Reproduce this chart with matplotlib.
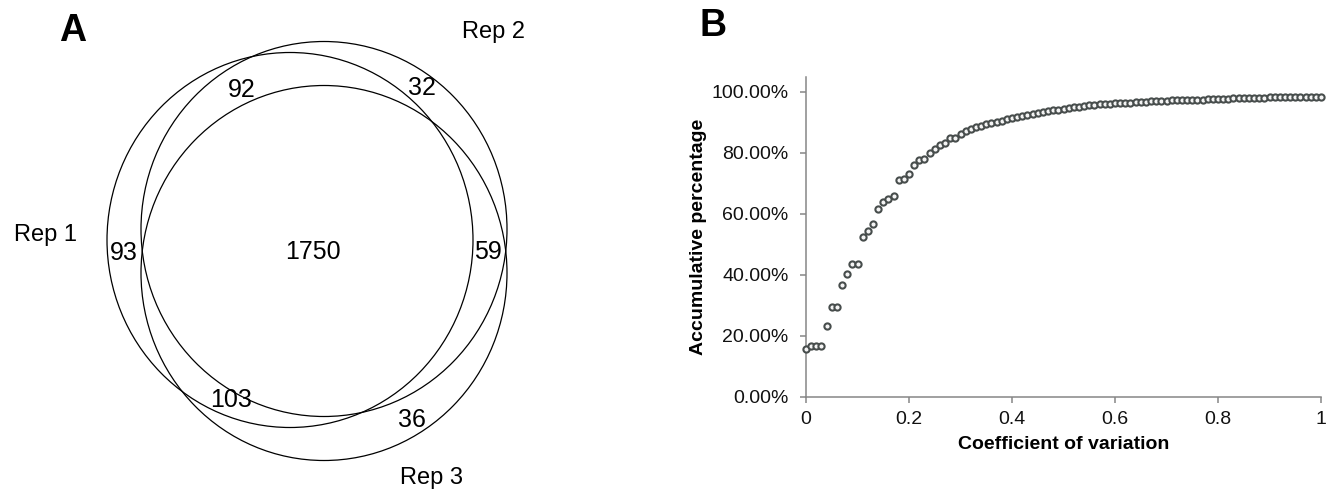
import matplotlib
matplotlib.use('Agg')
import matplotlib.pyplot as plt
from matplotlib.patches import Ellipse
from matplotlib.ticker import FuncFormatter

plt.rcParams['font.family'] = ['Liberation Sans', 'DejaVu Sans']

# Venn counts
set_names = ['Rep 1', 'Rep 2', 'Rep 3']
region_labels = ['93', '32', '36', '92', '59', '103', '1750']

# Cumulative percentage vs coefficient of variation
cv = [i / 100 for i in range(101)]
cum_pct = [15.8, 16.7, 16.7, 16.7, 23.3, 29.4, 29.4, 36.5, 40.1, 43.5,
           43.5, 52.3, 54.3, 56.5, 61.4, 63.7, 64.8, 65.9, 70.9, 71.4,
           73.0, 76.1, 77.6, 77.8, 80.0, 81.3, 82.4, 83.2, 84.7, 84.9,
           86.0, 87.0, 87.7, 88.3, 88.7, 89.3, 89.6, 90.2, 90.5, 90.9,
           91.4, 91.7, 92.0, 92.4, 92.7, 93.0, 93.3, 93.6, 93.9, 94.1,
           94.4, 94.6, 94.9, 95.1, 95.3, 95.5, 95.6, 95.8, 95.9, 96.1,
           96.2, 96.3, 96.4, 96.4, 96.5, 96.6, 96.7, 96.8, 96.9, 96.9,
           97.0, 97.1, 97.1, 97.2, 97.3, 97.3, 97.4, 97.4, 97.5, 97.5,
           97.6, 97.7, 97.7, 97.8, 97.8, 97.9, 97.9, 97.9, 98.0, 98.0,
           98.1, 98.1, 98.1, 98.2, 98.2, 98.2, 98.3, 98.3, 98.3, 98.4,
           98.4]

fig = plt.figure(figsize=(13.34, 4.92), dpi=100)

# ---- panel A: venn, drawn in pixel-like coordinates
axA = fig.add_axes([0, 0, 600 / 1334, 1])
axA.set_xlim(0, 600)
axA.set_ylim(492, 0)
axA.axis('off')

ell_centers = [(290, 240), (324, 229), (324, 273)]
for c in ell_centers:
    axA.add_patch(Ellipse(c, 366, 375, fill=False, ec='black', lw=0.9))

name_pos = [(46, 235), (494, 32), (432, 478)]
for name, (x, y) in zip(set_names, name_pos):
    axA.text(x, y, name, fontsize=17, ha='center', va='center')

region_pos = [(124, 253), (422, 88), (412, 420), (242, 90), (488, 252),
              (231, 400), (313, 252)]
for lab, (x, y) in zip(region_labels, region_pos):
    axA.text(x, y, lab, fontsize=18, ha='center', va='center')

fig.text(73 / 1334, 1 - 31 / 492, 'A', fontsize=27, fontweight='bold',
         ha='center', va='center')

# ---- panel B: scatter
axB = fig.add_axes([806 / 1334, 1 - 396.7 / 492, 515 / 1334, 319.7 / 492])
axB.scatter(cv, cum_pct, s=20, facecolor='#f4f4f4', edgecolor='#474d4c',
            linewidths=1.5, zorder=3, clip_on=False)
axB.set_xlim(0, 1)
axB.set_ylim(0, 104.8)
axB.set_xticks([0, 0.2, 0.4, 0.6, 0.8, 1])
axB.set_yticks([0, 20, 40, 60, 80, 100])
axB.xaxis.set_major_formatter(FuncFormatter(lambda v, p: '%g' % v))
axB.yaxis.set_major_formatter(FuncFormatter(lambda v, p: '%.2f%%' % v))
for s in ['top', 'right']:
    axB.spines[s].set_visible(False)
for s in ['left', 'bottom']:
    axB.spines[s].set_color('#868686')
    axB.spines[s].set_linewidth(1.1)
axB.tick_params(axis='both', direction='out', length=4, width=1.1,
                color='#868686', labelsize=14, labelcolor='#111111')
axB.tick_params(axis='y', pad=8.5)
axB.tick_params(axis='x', pad=6)
axB.set_xlabel('Coefficient of variation', fontsize=14, fontweight='bold',
               labelpad=6)
axB.set_ylabel('Accumulative percentage', fontsize=14, fontweight='bold',
               labelpad=3)

fig.text(713 / 1334, 1 - 26 / 492, 'B', fontsize=27, fontweight='bold',
         ha='center', va='center')

fig.savefig('out.png', dpi=100)
